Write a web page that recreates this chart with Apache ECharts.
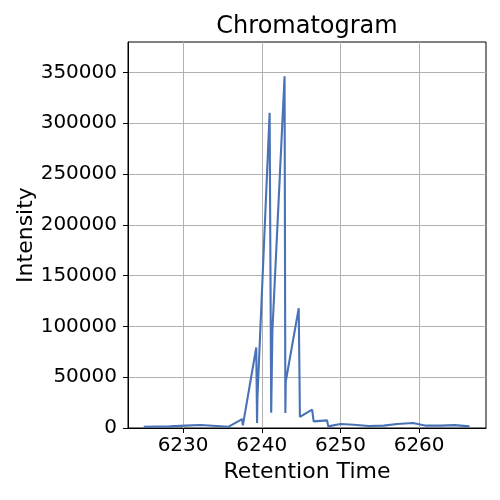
<!DOCTYPE html>
<html>
<head>
	<meta charset="utf-8">
	<title>Chromatogram</title>
	<style>
		html,body{margin:0;padding:0;background:#fff;}
		#main{width:500px;height:500px;}
	</style>
</head>
<body>
	<div id="main"></div>
</body>
<script type="text/javascript" src="https://cdn.jsdelivr.net/npm/echarts@6/dist/echarts.min.js"></script>
<script type="text/javascript">
	// retention time / intensity
	var retentionTimes = [6225.0, 6228.3, 6230.3, 6232.2, 6232.4, 6235.8, 6237.5, 6237.6,
		6239.3, 6239.4, 6239.45, 6241.0, 6241.2, 6241.35, 6242.9, 6243.0, 6243.05,
		6244.7, 6244.85, 6246.4, 6246.6, 6248.3, 6248.45, 6250.0, 6250.2, 6251.7,
		6251.9, 6253.6, 6255.5, 6255.7, 6257.2, 6257.4, 6259.2, 6259.4, 6260.9,
		6262.8, 6264.5, 6264.6, 6264.65, 6266.4];
	var intensities = [1300, 1600, 2300, 3000, 1600, 1300, 8800, 2600,
		79300, 5000, 30000, 310300, 15000, 95000, 346300, 14700, 45800,
		118000, 11000, 18000, 6500, 7500, 1600, 3900, 2300, 3200,
		2000, 2000, 2300, 1600, 3900, 2300, 4900, 3500, 2300,
		2300, 2800, 4500, 1600, 1600];
	var xTicks = [6230, 6240, 6250, 6260];
	var yTicks = [0, 50000, 100000, 150000, 200000, 250000, 300000, 350000];

	var font = 'DejaVu Sans';

	// plain numbers, no thousands separator
	function plain(v){
		return String(v);
	}

	function drawChart(){
		var myChart = echarts.init(document.getElementById('main'));
		var points = [];
		for(var i=0;i<retentionTimes.length;i++){
			points.push([retentionTimes[i], intensities[i]]);
		}
		var option = {
			animation: false,
			title: {
				text: 'Chromatogram',
				left: 307,
				top: 15,
				padding: 0,
				textAlign: 'center',
				textStyle: {fontFamily: font, fontSize: 24, fontWeight: 'normal', color: '#000'}
			},
			grid: {
				left: 128, right: 14, top: 42, bottom: 72,
				show: true, borderColor: '#000', borderWidth: 1
			},
			xAxis: {
				type: 'value',
				min: 6223,
				max: 6268.5,
				name: 'Retention Time',
				nameLocation: 'middle',
				nameGap: 33,
				nameMoveOverlap: false,
				nameTextStyle: {fontFamily: font, fontSize: 22, color: '#000'},
				axisLine: {lineStyle: {color: '#000', width: 1}},
				axisTick: {show: true, inside: false, length: 5, customValues: xTicks, lineStyle: {color: '#000'}},
				axisLabel: {customValues: xTicks, formatter: plain, margin: 8, fontFamily: font, fontSize: 20, color: '#000'},
				splitLine: {show: true, lineStyle: {color: '#b0b0b0', width: 1}}
			},
			yAxis: {
				type: 'value',
				min: 0,
				max: 380000,
				name: 'Intensity',
				nameLocation: 'middle',
				nameGap: 91,
				nameMoveOverlap: false,
				nameTextStyle: {fontFamily: font, fontSize: 22, color: '#000'},
				axisLine: {show: true, lineStyle: {color: '#000', width: 1}},
				axisTick: {show: true, inside: false, length: 5, customValues: yTicks, lineStyle: {color: '#000'}},
				axisLabel: {customValues: yTicks, formatter: plain, margin: 11, fontFamily: font, fontSize: 20, color: '#000'},
				splitLine: {show: true, lineStyle: {color: '#b0b0b0', width: 1}}
			},
			series: [
				{
					type: 'line',
					data: points,
					showSymbol: false,
					lineStyle: {color: '#4a72b6', width: 2.1},
					itemStyle: {color: '#4a72b6'}
				}
			]
		};
		myChart.setOption(option);
	}

	drawChart();
</script>
</html>
